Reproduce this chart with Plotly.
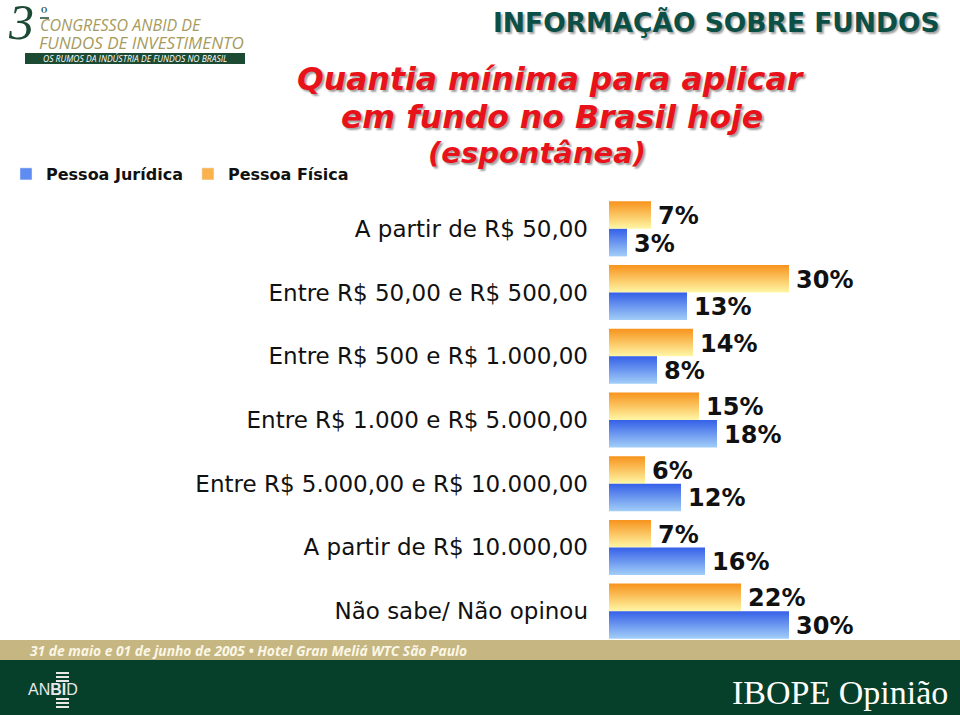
import plotly.graph_objects as go

categories = [
    "A partir de R$ 50,00",
    "Entre R$ 50,00 e R$ 500,00",
    "Entre R$ 500 e R$ 1.000,00",
    "Entre R$ 1.000 e R$ 5.000,00",
    "Entre R$ 5.000,00 e R$ 10.000,00",
    "A partir de R$ 10.000,00",
    "Não sabe/ Não opinou",
]
pessoa_fisica = [7, 30, 14, 15, 6, 7, 22]
pessoa_juridica = [3, 13, 8, 18, 12, 16, 30]

W, H = 960, 715
def px(x):
    return x / W
def py(y):
    return (H - y) / H

ORANGE = [[0, "#FFF7A6"], [1, "#F7931C"]]
BLUE = [[0, "#A2CEF8"], [1, "#3560E8"]]
half = 0.432

fig = go.Figure()
# legend-only entries (square swatches)
fig.add_trace(go.Bar(x=[None], y=[None], orientation="h", name="Pessoa Jurídica",
                     marker=dict(color="#5F8CF0"), legendgroup="pj", legendrank=1,
                     hoverinfo="skip"))
fig.add_trace(go.Bar(x=[None], y=[None], orientation="h", name="Pessoa Física",
                     marker=dict(color="#FAB24C"), legendgroup="pf", legendrank=2,
                     hoverinfo="skip"))

for i, cat in enumerate(categories):
    for vals, name, grp, cs, top in (
        (pessoa_fisica, "Pessoa Física", "pf", ORANGE, i - half),
        (pessoa_juridica, "Pessoa Jurídica", "pj", BLUE, i),
    ):
        v = vals[i]
        y0, y1 = top, top + half
        fig.add_trace(go.Scatter(
            x=[0, v, v, 0, 0], y=[y0, y0, y1, y1, y0],
            mode="lines", line=dict(width=0), fill="toself",
            fillgradient=dict(type="vertical", colorscale=cs),
            name=name, legendgroup=grp, showlegend=False, hoverinfo="skip",
        ))
        fig.add_annotation(
            x=v, y=(y0 + y1) / 2, xref="x", yref="y", text=f"{v}%",
            showarrow=False, xanchor="left", yanchor="middle", xshift=5, yshift=-1,
            font=dict(family="DejaVu Sans", size=24, color="#111111", weight="bold"),
        )

fig.update_layout(
    width=W, height=H, margin=dict(l=0, r=0, t=0, b=0),
    paper_bgcolor="white", plot_bgcolor="white",
    xaxis=dict(domain=[px(609), px(909)], range=[0, 50], visible=False, automargin=False),
    yaxis=dict(domain=[py(643), py(197)], range=[6.5, -0.5], tickmode="array",
               tickvals=list(range(len(categories))), ticktext=categories,
               showgrid=False, zeroline=False, showline=False, ticks="",
               ticklabelstandoff=20, automargin=False,
               tickfont=dict(family="DejaVu Sans", size=23, color="#111111")),
    legend=dict(orientation="h", x=px(6), y=py(157), xanchor="left", yanchor="top",
                font=dict(family="DejaVu Sans", size=16, color="#111111", weight="bold"),
                itemwidth=30, bgcolor="rgba(0,0,0,0)", traceorder="normal"),
    showlegend=True, barmode="overlay",
)

shadow = "2px 2px 2px #a0a0a0"
# Header
fig.add_annotation(x=px(716), y=py(23), xref="paper", yref="paper", showarrow=False,
                   text="INFORMAÇÃO SOBRE FUNDOS", xanchor="center", yanchor="middle",
                   font=dict(family="DejaVu Sans", size=26.5, color="#0B4F46", weight="bold", shadow=shadow))
# Title
red = "#E8121B"
for txt, yy, sz, xx in (("Quantia mínima para aplicar", 79, 31.5, 551),
                        ("em fundo no Brasil hoje", 117, 31.5, 552),
                        ("(espontânea)", 153, 29, 537)):
    fig.add_annotation(x=px(xx), y=py(yy), xref="paper", yref="paper", showarrow=False,
                       text=txt, xanchor="center", yanchor="middle",
                       font=dict(family="DejaVu Sans", size=sz, color=red, weight="bold",
                                 style="italic", shadow=shadow))

# Logo (top-left)
fig.add_annotation(x=px(6), y=py(0), xref="paper", yref="paper", showarrow=False,
                   text="3", xanchor="left", yanchor="top", yshift=8,
                   font=dict(family="Liberation Serif", size=50, color="#1D4A34", style="italic"))
fig.add_annotation(x=px(39), y=py(1), xref="paper", yref="paper", showarrow=False,
                   text="º", xanchor="left", yanchor="top", yshift=1,
                   font=dict(family="Liberation Serif", size=20, color="#1D4A34"))
fig.add_shape(type="line", xref="paper", yref="paper", x0=px(40), x1=px(49),
              y0=py(18), y1=py(18), line=dict(color="#1D4A34", width=1.5))
fig.add_annotation(x=px(38), y=py(25), xref="paper", yref="paper", showarrow=False,
                   text="CONGRESSO ANBID DE", xanchor="left", yanchor="middle",
                   font=dict(family="Open Sans", size=16, color="#A69B5C", style="italic"))
fig.add_annotation(x=px(37), y=py(42), xref="paper", yref="paper", showarrow=False,
                   text="FUNDOS DE INVESTIMENTO", xanchor="left", yanchor="middle",
                   font=dict(family="Open Sans", size=17, color="#A69B5C", style="italic"))
fig.add_shape(type="rect", xref="paper", yref="paper", x0=px(25), x1=px(245),
              y0=py(64), y1=py(53), fillcolor="#1C4A33", line=dict(width=0))
fig.add_annotation(x=px(135), y=py(58.5), xref="paper", yref="paper", showarrow=False,
                   text="OS RUMOS DA INDÚSTRIA DE FUNDOS NO BRASIL", xanchor="center", yanchor="middle",
                   font=dict(family="Open Sans", size=8.5, color="white", style="italic"))

# Bottom bands
fig.add_shape(type="rect", xref="paper", yref="paper", x0=0, x1=1, y0=py(660), y1=py(640),
              fillcolor="#C5B682", line=dict(width=0), layer="above")
fig.add_shape(type="rect", xref="paper", yref="paper", x0=0, x1=1, y0=0, y1=py(660),
              fillcolor="#063F2A", line=dict(width=0), layer="above")
fig.add_annotation(x=px(28), y=py(650), xref="paper", yref="paper", showarrow=False,
                   text="31 de maio e 01 de junho de 2005 • Hotel Gran Meliá WTC São Paulo",
                   xanchor="left", yanchor="middle",
                   font=dict(family="Open Sans", size=13.8, color="#FBF7E6", weight="bold", style="italic"))
fig.add_annotation(x=px(950), y=py(692), xref="paper", yref="paper", showarrow=False,
                   text="IBOPE Opinião", xanchor="right", yanchor="middle",
                   font=dict(family="Liberation Serif", size=34, color="white"))
# ANBID mark
for yy in (672, 676, 680, 698, 702, 706):
    fig.add_shape(type="rect", xref="paper", yref="paper", x0=px(56), x1=px(69),
                  y0=py(yy + 2), y1=py(yy), fillcolor="#E8E8E8", line=dict(width=0), layer="above")
fig.add_annotation(x=px(53), y=py(689), xref="paper", yref="paper", showarrow=False,
                   text="AN<b>BI</b>D", xanchor="center", yanchor="middle",
                   font=dict(family="Liberation Sans", size=16, color="#E8E8E8"))

fig.write_html("out.html")
